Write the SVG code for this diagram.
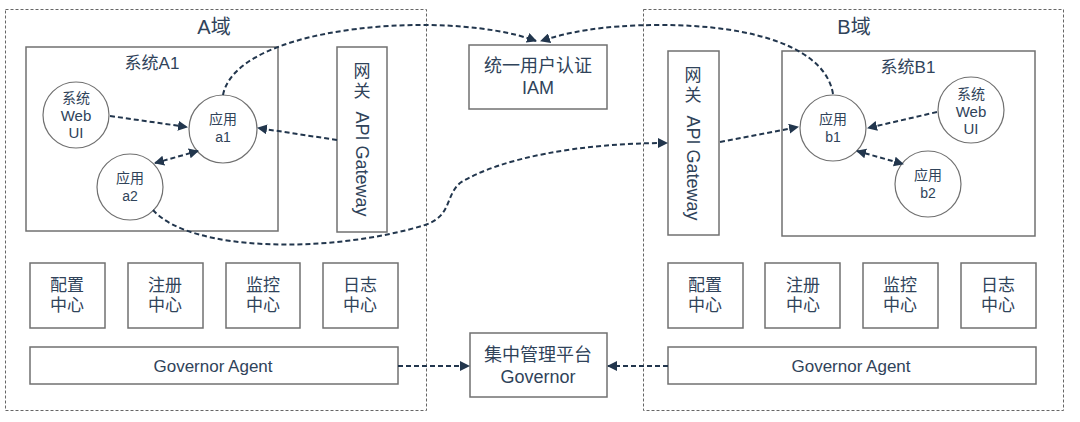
<svg xmlns="http://www.w3.org/2000/svg" width="1080" height="422" viewBox="0 0 1080 422">
<defs>
<marker id="ah" viewBox="0 0 10 10" refX="9" refY="5" markerWidth="5" markerHeight="5" orient="auto-start-reverse" markerUnits="strokeWidth">
<path d="M0,0 L10,5 L0,10 z" fill="#22364d"/>
</marker>
<style>
.dom{fill:none;stroke:#666;stroke-width:1;stroke-dasharray:3 2}
.box{fill:#fff;stroke:#707070;stroke-width:1.5}
.circ{fill:#fff;stroke:#707070;stroke-width:1.2}
.t{font-family:"Liberation Sans","Noto Sans CJK SC",sans-serif;fill:#30435a;text-anchor:middle;dominant-baseline:central}
.conn{fill:none;stroke:#22364d;stroke-width:2;stroke-dasharray:5 3}
.sm{font-size:14px}
.wb{font-size:15px}
.md{font-size:17px}
.ag{font-size:17px}
.ia{font-size:18px}
.gw{font-size:18px}
.lg{font-size:20px}
</style>
</defs>
<rect width="1080" height="422" fill="#fff"/>

<g id="domainA">
<rect class="dom" x="5.5" y="9.5" width="421" height="401"/>
<text class="t lg" x="214" y="27">A域</text>
</g>
<g id="domainB">
<rect class="dom" x="643.5" y="9.5" width="420" height="401"/>
<text class="t lg" x="854" y="27">B域</text>
</g>

<g id="systemA1">
<rect class="box" x="26" y="47" width="252" height="184"/>
<text class="t md" x="152" y="63">系统A1</text>
</g>
<g id="gatewayA">
<rect class="box" x="337" y="47" width="50" height="185"/>
<text class="t md" x="362" y="71">网</text>
<text class="t md" x="362" y="91">关</text>
<text class="t gw" x="362" y="164" transform="rotate(90 362 164)">API Gateway</text>
</g>
<g id="webuiA">
<circle class="circ" cx="76" cy="115" r="33"/>
<text class="t sm" x="76" y="98">系统</text>
<text class="t wb" x="76" y="115">Web</text>
<text class="t wb" x="76" y="132">UI</text>
</g>
<g id="appA1">
<circle class="circ" cx="223" cy="129" r="34"/>
<text class="t sm" x="223" y="119">应用</text>
<text class="t sm" x="223" y="137">a1</text>
</g>
<g id="appA2">
<circle class="circ" cx="130" cy="187" r="33"/>
<text class="t sm" x="130" y="178">应用</text>
<text class="t sm" x="130" y="196">a2</text>
</g>

<g id="iam">
<rect class="box" x="469" y="45" width="138" height="64"/>
<text class="t ia" x="538" y="66">统一用户认证</text>
<text class="t ia" x="538" y="88">IAM</text>
</g>

<g id="systemB1">
<rect class="box" x="782" y="51" width="253" height="185"/>
<text class="t md" x="908" y="67">系统B1</text>
</g>
<g id="gatewayB">
<rect class="box" x="668" y="51" width="51" height="184"/>
<text class="t md" x="693" y="75">网</text>
<text class="t md" x="693" y="95">关</text>
<text class="t gw" x="693" y="168" transform="rotate(90 693 168)">API Gateway</text>
</g>
<g id="appB1">
<circle class="circ" cx="833" cy="128" r="33"/>
<text class="t sm" x="833" y="119">应用</text>
<text class="t sm" x="833" y="137">b1</text>
</g>
<g id="webuiB">
<circle class="circ" cx="971" cy="110" r="33"/>
<text class="t sm" x="971" y="94">系统</text>
<text class="t wb" x="971" y="111">Web</text>
<text class="t wb" x="971" y="128">UI</text>
</g>
<g id="appB2">
<circle class="circ" cx="928" cy="184" r="33"/>
<text class="t sm" x="928" y="175">应用</text>
<text class="t sm" x="928" y="193">b2</text>
</g>

<g id="configA"><rect class="box" x="30" y="263" width="75" height="65"/><text class="t md" x="67" y="285">配置</text><text class="t md" x="67" y="305">中心</text></g>
<g id="registryA"><rect class="box" x="128" y="263" width="75" height="65"/><text class="t md" x="165" y="285">注册</text><text class="t md" x="165" y="305">中心</text></g>
<g id="monitorA"><rect class="box" x="226" y="263" width="74" height="65"/><text class="t md" x="263" y="285">监控</text><text class="t md" x="263" y="305">中心</text></g>
<g id="logA"><rect class="box" x="323" y="263" width="75" height="65"/><text class="t md" x="360" y="285">日志</text><text class="t md" x="360" y="305">中心</text></g>
<g id="agentA"><rect class="box" x="30" y="347" width="368" height="37"/><text class="t ag" x="213" y="366">Governor Agent</text></g>

<g id="configB"><rect class="box" x="668" y="263" width="75" height="65"/><text class="t md" x="705" y="285">配置</text><text class="t md" x="705" y="305">中心</text></g>
<g id="registryB"><rect class="box" x="765" y="263" width="75" height="65"/><text class="t md" x="803" y="285">注册</text><text class="t md" x="803" y="305">中心</text></g>
<g id="monitorB"><rect class="box" x="863" y="263" width="75" height="65"/><text class="t md" x="900" y="285">监控</text><text class="t md" x="900" y="305">中心</text></g>
<g id="logB"><rect class="box" x="961" y="263" width="75" height="65"/><text class="t md" x="998" y="285">日志</text><text class="t md" x="998" y="305">中心</text></g>
<g id="agentB"><rect class="box" x="668" y="347" width="368" height="37"/><text class="t ag" x="851" y="366">Governor Agent</text></g>

<g id="governor">
<rect class="box" x="470" y="333" width="137" height="64"/>
<text class="t ia" x="538" y="355">集中管理平台</text>
<text class="t ia" x="538" y="377">Governor</text>
</g>

<g id="connectors">
<path class="conn" d="M110,116 L187,127" marker-end="url(#ah)"/>
<path class="conn" d="M337,140 L258,128" marker-end="url(#ah)"/>
<path class="conn" d="M155,163 L198,151" marker-start="url(#ah)" marker-end="url(#ah)"/>
<path class="conn" d="M223,95 C232,48 330,24 430,25 C480,26 515,33 536,41" marker-end="url(#ah)"/>
<path class="conn" d="M833,94 C826,50 760,25 660,25 C600,25 565,33 541,41" marker-end="url(#ah)"/>
<path class="conn" d="M153,210 C190,252 330,254 425,225 C452,216 445,196 460,183 C500,158 580,143 667,143" marker-end="url(#ah)"/>
<path class="conn" d="M720,142 L798,127" marker-end="url(#ah)"/>
<path class="conn" d="M937,112 L868,128" marker-end="url(#ah)"/>
<path class="conn" d="M857,151 L903,164" marker-start="url(#ah)" marker-end="url(#ah)"/>
<path class="conn" d="M398,366 L469,366" marker-end="url(#ah)"/>
<path class="conn" d="M668,366 L608,366" marker-end="url(#ah)"/>
</g>
</svg>
